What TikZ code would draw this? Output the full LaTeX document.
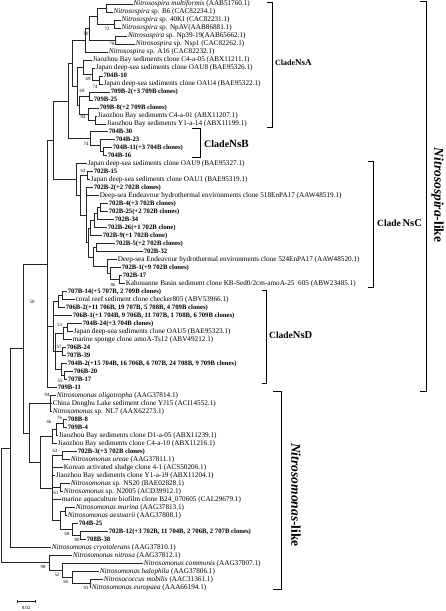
\documentclass[tikz,border=0pt]{standalone}
\usepackage{fontspec}
\setmainfont{Liberation Serif}
\tikzset{
 br/.style={draw=black!85, line width=0.7pt},
 lf/.style={anchor=west, inner sep=0.6pt, text height=4.8pt, text depth=1.4pt, font=\fontsize{7.2}{8}\selectfont},
 lfb/.style={lf, font=\fontsize{6.7}{8}\selectfont\bfseries},
 bs/.style={inner sep=0pt, font=\fontsize{4.8}{5}\selectfont},
 brk/.style={draw=black, line width=0.8pt},
 clade/.style={anchor=west, inner sep=0pt, font=\bfseries},
 biglab/.style={inner sep=0pt, rotate=-90, font=\fontsize{13.5}{15}\selectfont\bfseries},
}
\newcommand\ed[2]{\draw[br] (#1) |- (#2);}
\begin{document}
\begin{tikzpicture}[x=1pt,y=-1pt]
\fill[white] (0,0) rectangle (446,611);
\useasboundingbox (0,0) rectangle (446,611);
% ---------- leaves ----------
\node[lf]  (l1) at (132.7,4.0) {\textit{Nitrosospira multiformis} (AAB51760.1)};
\node[lf]  (l2) at (112.7,12.0) {\textit{Nitrosospira} sp. B6 (CAC82234.1)};
\node[lf]  (l3) at (120.7,20.0) {\textit{Nitrosospira} sp. 40KI (CAC82231.1)};
\node[lf]  (l4) at (120.7,28.0) {\textit{Nitrosospira} sp. NpAV(AAB86881.1)};
\node[lf]  (l5) at (127.3,36.0) {\textit{Nitrosospira} sp. Np39-19(AAB65662.1)};
\node[lf]  (l6) at (135,44.0) {\textit{Nitrosospira} sp. Nsp1 (CAC82262.1)};
\node[lf]  (l7) at (108,51.9) {\textit{Nitrosospira} sp. A16 (CAC82232.1)};
\node[lf]  (l8) at (91.7,59.9) {Jiaozhou Bay sediments clone C4-a-05 (ABX11211.1)};
\node[lf]  (l9) at (95,67.9) {Japan deep-sea sediments clone OAU8 (BAE95326.1)};
\node[lfb] (l10) at (102.7,75.9) {704B-10};
\node[lf]  (l11) at (103,83.9) {Japan deep-sea sediments clone OAU4 (BAE95322.1)};
\node[lfb] (l12) at (110,91.9) {709B-2(+3 709B clones)};
\node[lfb] (l13) at (93,99.9) {709B-25};
\node[lfb] (l14) at (99,107.9) {709B-8(+2 709B clones)};
\node[lf]  (l15) at (97,115.9) {Jiaozhou Bay sediments C4-a-01 (ABX11207.1)};
\node[lf]  (l16) at (106,123.9) {Jiaozhou Bay sediments Y1-a-14 (ABX11199.1)};
\node[lfb] (l17) at (108,131.8) {704B-30};
\node[lfb] (l18) at (115,139.8) {704B-23};
\node[lfb] (l19) at (112,147.8) {704B-11(+3 704B clones)};
\node[lfb] (l20) at (107,155.8) {704B-16};
\node[lf]  (l21) at (87,163.8) {Japan deep-sea sediments clone OAU9 (BAE95327.1)};
\node[lfb] (l22) at (93,171.8) {702B-15};
\node[lf]  (l23) at (90,179.8) {Japan deep-sea sediments clone OAU1 (BAE95319.1)};
\node[lfb] (l24) at (93,187.8) {702B-2(+2 702B clones)};
\node[lf]  (l25) at (99,195.8) {Deep-sea Endeavour hydrothermal environments clone 518EnPA17 (AAW48519.1)};
\node[lfb] (l26) at (108,203.8) {702B-4(+3 702B clones)};
\node[lfb] (l27) at (108,211.8) {702B-25(+2 702B clones)};
\node[lfb] (l28) at (114,219.7) {702B-34};
\node[lfb] (l29) at (107,227.7) {702B-26(+1 702B clone)};
\node[lfb] (l30) at (102,235.7) {702B-9(+1 702B clone)};
\node[lfb] (l31) at (115,243.7) {702B-5(+2 702B clones)};
\node[lfb] (l32) at (143,251.7) {702B-32};
\node[lf]  (l33) at (117,259.7) {Deep-sea Endeavour hydrothermal environments clone 524EnPA17 (AAW48520.1)};
\node[lfb] (l34) at (121,267.7) {702B-1(+9 702B clones)};
\node[lfb] (l35) at (122,275.7) {702B-17};
\node[lf]  (l36) at (125,283.7) {Kahouanne Basin sediment clone KB-Sed0/2cm-amoA-25\ \ 605 (ABW23485.1)};
\node[lfb] (l37) at (67,291.7) {707B-14(+5 707B, 2 709B clones)};
\node[lf]  (l38) at (75,299.7) {coral reef sediment clone checker805 (ABV53966.1)};
\node[lfb] (l39) at (65,307.6) {706B-2(+11 706B, 19 707B, 5 708B, 4 709B clones)};
\node[lfb] (l40) at (72,315.6) {706B-1(+1 704B, 9 706B, 11 707B, 1 708B, 6 709B clones)};
\node[lfb] (l41) at (82,323.6) {704B-24(+3 704B clones)};
\node[lf]  (l42) at (73,331.6) {Japan deep-sea sediments clone OAU5 (BAE95323.1)};
\node[lf]  (l43) at (72,339.6) {marine sponge clone amoA-Ts12 (ABV49212.1)};
\node[lfb] (l44) at (66,347.6) {706B-24};
\node[lfb] (l45) at (66,355.6) {707B-39};
\node[lfb] (l46) at (67,363.6) {704B-2(+15 704B, 16 706B, 6 707B, 24 708B, 9 709B clones)};
\node[lfb] (l47) at (73,371.6) {706B-20};
\node[lfb] (l48) at (67,379.6) {707B-17};
\node[lfb] (l49) at (57,387.5) {709B-11};
\node[lf]  (l50) at (56,395.5) {\textit{Nitrosomonas oligotropha} (AAG37814.1)};
\node[lf]  (l51) at (52,403.5) {China Donghu Lake sediment clone YJ15 (ACI14552.1)};
\node[lf]  (l52) at (52,411.5) {\textit{Nitrosomonas} sp. NL7 (AAX62273.1)};
\node[lfb] (l53) at (67,419.5) {708B-8};
\node[lfb] (l54) at (67,427.5) {709B-4};
\node[lf]  (l55) at (58,435.5) {Jiaozhou Bay sediments clone D1-a-05 (ABX11239.1)};
\node[lf]  (l56) at (57,443.5) {Jiaozhou Bay sediments clone C4-a-10 (ABX11216.1)};
\node[lfb] (l57) at (77,451.5) {702B-3(+3 702B clones)};
\node[lf]  (l58) at (70,459.5) {\textit{Nitrosomonas ureae} (AAG37811.1)};
\node[lf]  (l59) at (63,467.4) {Korean activated sludge clone 4-1 (ACS50206.1)};
\node[lf]  (l60) at (55,475.4) {Jiaozhou Bay sediments clone Y1-a-19 (ABX11204.1)};
\node[lf]  (l61) at (70,483.4) {\textit{Nitrosomonas} sp. NS20 (BAE02828.1)};
\node[lf]  (l62) at (63,491.4) {\textit{Nitrosomonas} sp. N2005 (ACD39912.1)};
\node[lf]  (l63) at (61,499.4) {marine aquaculture biofilm clone B24\_070605 (CAL29679.1)};
\node[lf]  (l64) at (75,507.4) {\textit{Nitrosomonas marina} (AAG37813.1)};
\node[lf]  (l65) at (67,515.4) {\textit{Nitrosomonas aestuarii} (AAG37808.1)};
\node[lfb] (l66) at (78,523.4) {704B-25};
\node[lfb] (l67) at (108,531.4) {702B-12(+3 702B, 11 704B, 2 706B, 2 707B clones)};
\node[lfb] (l68) at (86,539.4) {708B-38};
\node[lf]  (l69) at (51,547.4) {\textit{Nitrosomonas cryotolerans} (AAG37810.1)};
\node[lf]  (l70) at (72,555.3) {\textit{Nitrosomonas nitrosa} (AAG37812.1)};
\node[lf]  (l71) at (143,563.3) {\textit{Nitrosomonas communis} (AAG37807.1)};
\node[lf]  (l72) at (99,571.3) {\textit{Nitrosomonas halophila} (AAG37806.1)};
\node[lf]  (l73) at (103,579.3) {\textit{Nitrosococcus mobilis} (AAC31361.1)};
\node[lf]  (l74) at (91,587.3) {\textit{Nitrosomonas europaea} (AAA66194.1)};
% ---------- internal nodes ----------
\coordinate (nA) at (106,8.0);
\coordinate (nB) at (114,24.0);
\coordinate (nC) at (97,16.0);
\coordinate (nD) at (115,40.0);
\coordinate (nE) at (89,28.0);
\coordinate (nF) at (85,39.95);
\coordinate (nG) at (99,79.9);
\coordinate (nH) at (92,73.9);
\coordinate (nI) at (83,66.9);
\coordinate (nJ) at (89,95.9);
\coordinate (nK) at (95,119.9);
\coordinate (nL) at (88,113.9);
\coordinate (nM) at (79,104.9);
\coordinate (nQ) at (77,85.9);
\coordinate (nR) at (72,62.95);
\coordinate (nS) at (103,151.8);
\coordinate (nT) at (100,145.8);
\coordinate (nU) at (90,138.8);
\coordinate (nV) at (68,100.9);
\coordinate (nW) at (87,175.8);
\coordinate (nX1) at (100,207.8);
\coordinate (nX2) at (97,213.75);
\coordinate (nX3) at (94,220.7);
\coordinate (nX4) at (90,228.2);
\coordinate (nY1) at (96,247.7);
\coordinate (nZ1) at (119,279.7);
\coordinate (nZ2) at (110,273.7);
\coordinate (nZ3) at (107,266.7);
\coordinate (nY2) at (93,257.2);
\coordinate (nX5) at (88,242.7);
\coordinate (nX6) at (86,215.25);
\coordinate (nC1) at (80,195.5);
\coordinate (nC0) at (76,179.65);
\coordinate (nABC) at (53,140.3);
\coordinate (dA) at (62,295.7);
\coordinate (dB) at (58,301.65);
\coordinate (dC) at (67,327.6);
\coordinate (dD) at (63,333.6);
\coordinate (dE) at (62,351.6);
\coordinate (dF) at (64,375.6);
\coordinate (dG) at (61,369.6);
\coordinate (dH) at (55.5,351.6);
\coordinate (dR) at (53,326.6);
\coordinate (nN1) at (47,263.9);
\coordinate (mO) at (50,403.5);
\coordinate (mE1) at (63,423.5);
\coordinate (mE2) at (56,429.5);
\coordinate (mE3) at (52,436.5);
\coordinate (mF1) at (62,455.5);
\coordinate (mF2) at (60,487.4);
\coordinate (mF3) at (65,511.4);
\coordinate (mG1) at (80,535.4);
\coordinate (mG2) at (72,529.4);
\coordinate (mF4) at (60,520.4);
\coordinate (mF5) at (52,487.95);
\coordinate (mH1) at (40,462.2);
\coordinate (mNM) at (29,432.85);
\coordinate (nM1) at (23,348.4);
\coordinate (nR1) at (10,447.9);
\coordinate (kK1) at (90,583.3);
\coordinate (kK2) at (72,577.3);
\coordinate (kK3) at (62,570.3);
\coordinate (nR2) at (49,562.8);
\coordinate (root) at (1.5,505.35);
% ---------- branches ----------
\ed{nA}{l1.west} \ed{nA}{l2.west}
\ed{nB}{l3.west} \ed{nB}{l4.west}
\ed{nC}{nA} \ed{nC}{nB}
\ed{nD}{l5.west} \ed{nD}{l6.west}
\ed{nE}{nC} \ed{nE}{nD}
\ed{nF}{nE} \ed{nF}{l7.west}
\ed{nG}{l10.west} \ed{nG}{l11.west}
\ed{nH}{l9.west} \ed{nH}{nG}
\ed{nI}{l8.west} \ed{nI}{nH}
\ed{nJ}{l12.west} \ed{nJ}{l13.west}
\ed{nK}{l15.west} \ed{nK}{l16.west}
\ed{nL}{l14.west} \ed{nL}{nK}
\ed{nM}{nJ} \ed{nM}{nL}
\ed{nQ}{nI} \ed{nQ}{nM}
\ed{nR}{nF} \ed{nR}{nQ}
\ed{nS}{l19.west} \ed{nS}{l20.west}
\ed{nT}{l18.west} \ed{nT}{nS}
\ed{nU}{l17.west} \ed{nU}{nT}
\ed{nV}{nR} \ed{nV}{nU}
\ed{nW}{l22.west} \ed{nW}{l23.west}
\ed{nX1}{l26.west} \ed{nX1}{l27.west}
\ed{nX2}{nX1} \ed{nX2}{l28.west}
\ed{nX3}{nX2} \ed{nX3}{l29.west}
\ed{nX4}{nX3} \ed{nX4}{l30.west}
\ed{nY1}{l31.west} \ed{nY1}{l32.west}
\ed{nZ1}{l35.west} \ed{nZ1}{l36.west}
\ed{nZ2}{l34.west} \ed{nZ2}{nZ1}
\ed{nZ3}{l33.west} \ed{nZ3}{nZ2}
\ed{nY2}{nY1} \ed{nY2}{nZ3}
\ed{nX5}{nX4} \ed{nX5}{nY2}
\ed{nX6}{l24.west} \ed{nX6}{l25.west} \ed{nX6}{nX5}
\ed{nC1}{nW} \ed{nC1}{nX6}
\ed{nC0}{l21.west} \ed{nC0}{nC1}
\ed{nABC}{nV} \ed{nABC}{nC0}
\ed{dA}{l37.west} \ed{dA}{l38.west}
\ed{dB}{dA} \ed{dB}{l39.west}
\ed{dC}{l41.west} \ed{dC}{l42.west}
\ed{dD}{dC} \ed{dD}{l43.west}
\ed{dE}{l44.west} \ed{dE}{l45.west}
\ed{dF}{l47.west} \ed{dF}{l48.west}
\ed{dG}{l46.west} \ed{dG}{dF}
\ed{dH}{dD} \ed{dH}{dE} \ed{dH}{dG}
\ed{dR}{dB} \ed{dR}{l40.west} \ed{dR}{dH}
\ed{nN1}{nABC} \ed{nN1}{dR} \ed{nN1}{l49.west}
\ed{mO}{l50.west} \ed{mO}{l51.west} \ed{mO}{l52.west}
\ed{mE1}{l53.west} \ed{mE1}{l54.west}
\ed{mE2}{mE1} \ed{mE2}{l55.west}
\ed{mE3}{mE2} \ed{mE3}{l56.west}
\ed{mF1}{l57.west} \ed{mF1}{l58.west}
\ed{mF2}{l61.west} \ed{mF2}{l62.west}
\ed{mF3}{l64.west} \ed{mF3}{l65.west}
\ed{mG1}{l67.west} \ed{mG1}{l68.west}
\ed{mG2}{l66.west} \ed{mG2}{mG1}
\ed{mF4}{mF3} \ed{mF4}{mG2}
\ed{mF5}{mF1} \ed{mF5}{l59.west} \ed{mF5}{l60.west} \ed{mF5}{mF2} \ed{mF5}{l63.west} \ed{mF5}{mF4}
\ed{mH1}{mE3} \ed{mH1}{mF5}
\ed{mNM}{mO} \ed{mNM}{mH1}
\ed{nM1}{nN1} \ed{nM1}{mNM}
\ed{nR1}{nM1} \ed{nR1}{l69.west}
\ed{kK1}{l73.west} \ed{kK1}{l74.west}
\ed{kK2}{l72.west} \ed{kK2}{kK1}
\ed{kK3}{l71.west} \ed{kK3}{kK2}
\ed{nR2}{l70.west} \ed{nR2}{kK3}
\ed{root}{nR1} \ed{root}{nR2}
% ---------- bootstrap values ----------
\node[bs] (b1) at (107,29) {72};
\node[bs] (b2) at (112,44) {78};
\node[bs] (b3) at (86,34) {50};
\node[bs] (b4) at (88,79) {69};
\node[bs] (b5) at (95,87) {74};
\node[bs] (b6) at (82,91) {69};
\node[bs] (b7) at (83,117) {94};
\node[bs] (b8) at (86,144) {74};
\node[bs] (b9) at (83,171) {62};
\node[bs] (b10) at (113,285) {86};
\node[bs] (b11) at (32,302) {50};
\node[bs] (b12) at (59.5,324.5) {53};
\node[bs] (b13) at (59,347) {57};
\node[bs] (b14) at (60,381) {55};
\node[bs] (b15) at (47,395) {94};
\node[bs] (b16) at (59.5,418) {76};
\node[bs] (b17) at (49,422) {66};
\node[bs] (b18) at (55,451) {63};
\node[bs] (b19) at (56,493) {61};
\node[bs] (b20) at (67,534) {68};
\node[bs] (b21) at (77,540) {80};
\node[bs] (b22) at (43,567) {98};
\node[bs] (b23) at (57,575) {52};
\node[bs] (b24) at (66,582) {66};
\node[bs] (b25) at (86,588) {93};
% ---------- scale bar ----------
\coordinate (sb1) at (17,601);
\coordinate (sb2) at (35,601);
\draw[br, line width=0.6pt] (sb1) -- (sb2);
\draw[br, line width=0.6pt] ([yshift=-1.5pt]sb1) -- ([yshift=1.5pt]sb1);
\draw[br, line width=0.6pt] ([yshift=-1.5pt]sb2) -- ([yshift=1.5pt]sb2);
\node[bs] (sbl) at (26,608) {0.02};
% ---------- clade brackets ----------
\coordinate (ka1) at (267,2);   \coordinate (ka2) at (272,2);
\coordinate (ka3) at (272,127); \coordinate (ka4) at (267,127);
\draw[brk] (ka1) -- (ka2) -- (ka3) -- (ka4);
\node[clade] (cA) at (275,63) {{\fontsize{8}{9}\selectfont Clade}{\fontsize{9}{10}\selectfont NsA}};
\coordinate (kb1) at (192,128);   \coordinate (kb2) at (200,128);
\coordinate (kb3) at (200,157);   \coordinate (kb4) at (192,157);
\draw[brk] (kb1) -- (kb2) -- (kb3) -- (kb4);
\node[clade] (cB) at (204,144) {{\fontsize{10}{11}\selectfont Clade}{\fontsize{11}{12}\selectfont NsB}};
\coordinate (kc1) at (368,161);   \coordinate (kc2) at (373,161);
\coordinate (kc3) at (373,287);   \coordinate (kc4) at (368,287);
\draw[brk] (kc1) -- (kc2) -- (kc3) -- (kc4);
\node[clade] (cC) at (377,223) {{\fontsize{9.5}{11}\selectfont Clade}\,{\fontsize{10.5}{12}\selectfont NsC}};
\coordinate (kd1) at (262,290);   \coordinate (kd2) at (266,290);
\coordinate (kd3) at (266,383);   \coordinate (kd4) at (262,383);
\draw[brk] (kd1) -- (kd2) -- (kd3) -- (kd4);
\node[clade] (cD) at (269,335) {{\fontsize{9.5}{11}\selectfont Clade}{\fontsize{10.5}{12}\selectfont NsD}};
\coordinate (ks1) at (420,1.5);   \coordinate (ks2) at (426,1.5);
\coordinate (ks3) at (426,391);   \coordinate (ks4) at (420,391);
\draw[brk] (ks1) -- (ks2) -- (ks3) -- (ks4);
\node[biglab] (gS) at (437.5,195) {\textit{Nitrosospira}-like};
\coordinate (km1) at (273,391);   \coordinate (km2) at (281,391);
\coordinate (km3) at (281,589);   \coordinate (km4) at (273,589);
\draw[brk] (km1) -- (km2) -- (km3) -- (km4);
\node[biglab] (gM) at (296,495) {\textit{Nitrosomonas}-like};
\end{tikzpicture}
\end{document}
